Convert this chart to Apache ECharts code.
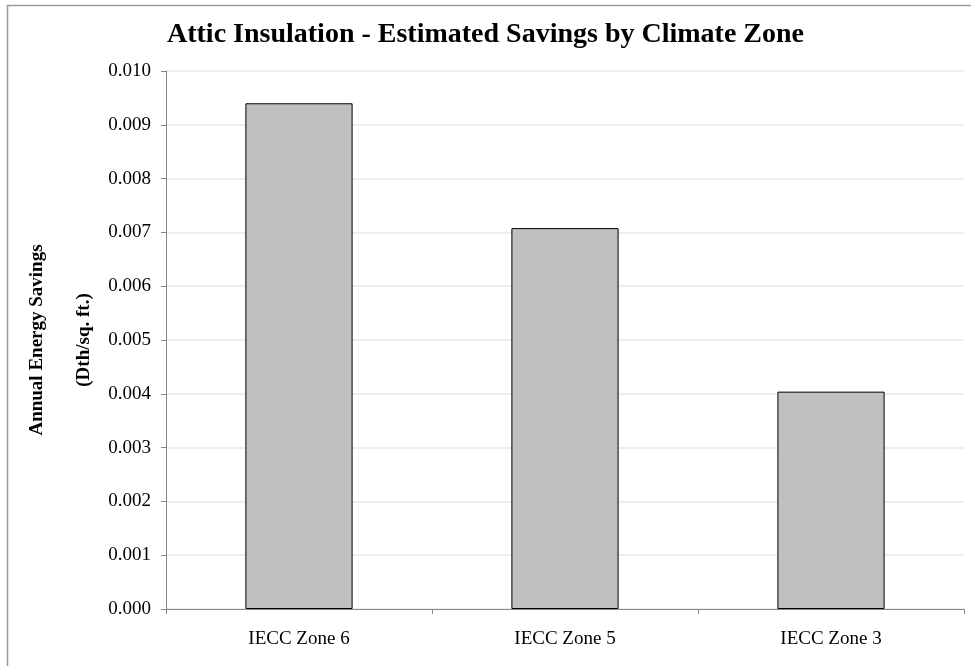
<!DOCTYPE html>
<html>
<head>
<meta charset="utf-8">
<script src="https://cdn.jsdelivr.net/npm/echarts@6/dist/echarts.min.js"></script>
<style>
  html, body { margin: 0; padding: 0; background: #fff; }
  #chart { width: 971px; height: 666px; }
</style>
</head>
<body>
<div id="chart"></div>
<script>
// Climate zones and the estimated annual savings per square foot of attic
const zones = ['IECC Zone 6', 'IECC Zone 5', 'IECC Zone 3'];
const savings = [0.0094, 0.00708, 0.00404];
const yTitleLines = ['Annual Energy Savings', '(Dth/sq. ft.)'];

const serif = '"Liberation Serif", "Times New Roman", serif';

const chart = echarts.init(document.getElementById('chart'), null, { renderer: 'canvas' });

// Vertical axis title, drawn as two rotated lines left of the tick labels
const yTitleX = [37, 84];
const yTitle = yTitleLines.map((line, i) => ({
  type: 'text',
  x: yTitleX[i],
  y: 340,
  rotation: Math.PI / 2,
  silent: true,
  style: {
    text: line,
    fontFamily: serif,
    fontWeight: 'bold',
    fontSize: 19,
    fill: '#000',
    align: 'center',
    verticalAlign: 'middle'
  }
}));

chart.setOption({
  backgroundColor: '#ffffff',
  animation: false,
  title: {
    text: 'Attic Insulation - Estimated Savings by Climate Zone',
    left: 'center',
    top: 16,
    textStyle: { fontFamily: serif, fontSize: 28, fontWeight: 'bold', color: '#000' }
  },
  graphic: [{
    type: 'rect',
    shape: { x: 7.5, y: 5.5, width: 1000, height: 700 },
    style: { fill: 'none', stroke: '#9a9a9a', lineWidth: 1.5 },
    silent: true
  }].concat(yTitle),
  grid: { left: 166, right: 7, top: 71, bottom: 57, containLabel: false, outerBoundsMode: 'none' },
  xAxis: {
    type: 'category',
    data: zones,
    axisLine: { lineStyle: { color: '#888', width: 1 } },
    axisTick: { show: true, alignWithLabel: false, length: 5, lineStyle: { color: '#888' } },
    axisLabel: { fontFamily: serif, fontSize: 19, color: '#000', margin: 21 }
  },
  yAxis: {
    type: 'value',
    min: 0,
    max: 0.010,
    interval: 0.001,
    axisLine: { show: true, lineStyle: { color: '#888', width: 1 } },
    axisTick: { show: true, length: 5, lineStyle: { color: '#888' } },
    axisLabel: {
      fontFamily: serif, fontSize: 19, color: '#000', margin: 15,
      formatter: v => v.toFixed(3)
    },
    splitLine: { show: true, lineStyle: { color: '#e8e8e8', width: 1.5 } }
  },
  series: [{
    type: 'bar',
    data: savings,
    barWidth: '40.3%',
    itemStyle: { color: '#c0c0c0', borderColor: '#000', borderWidth: 1 }
  }]
});
</script>
</body>
</html>
